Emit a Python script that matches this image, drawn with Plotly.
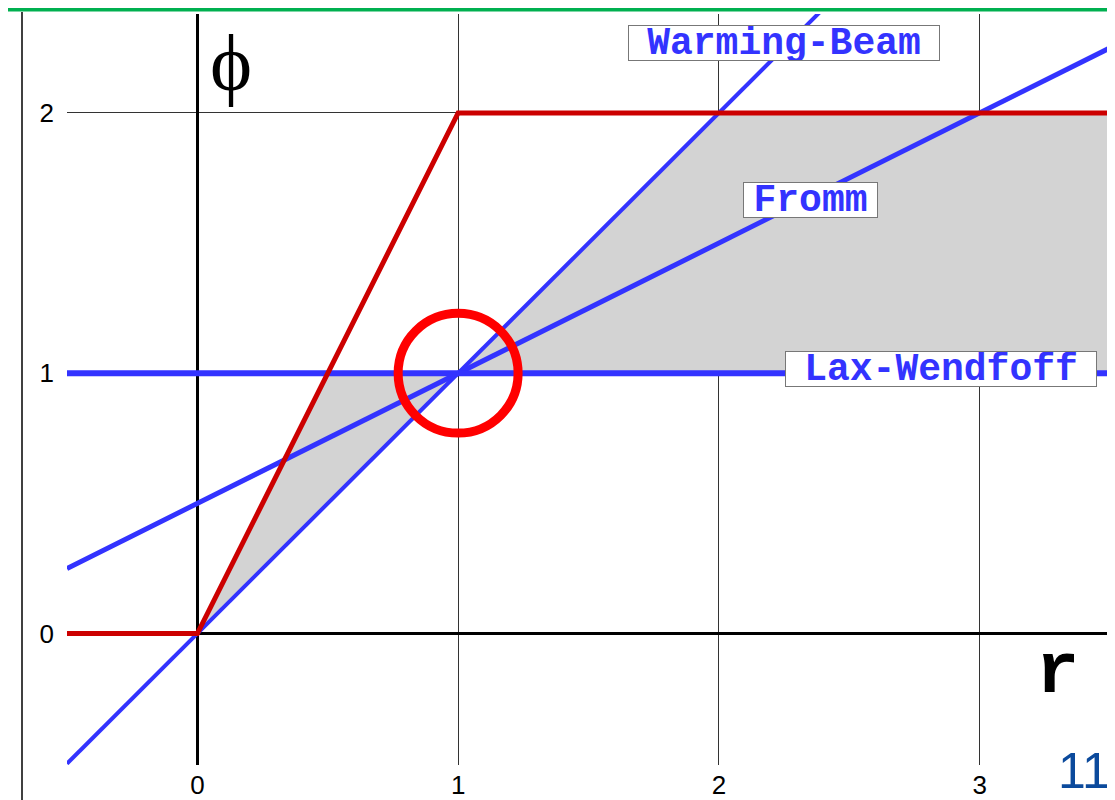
import plotly.graph_objects as go

# ---- data ----
tick_vals = [0, 1, 2, 3]
tick_text = ["0", "1", "2", "3"]

wb_r = [-0.5, 2.4]        # Warming-Beam  phi = r
wb_phi = [-0.5, 2.4]
fromm_r = [-0.5, 3.5]     # Fromm  phi = (1+r)/2
fromm_phi = [0.25, 2.25]
lw_r = [-0.5, 3.5]        # Lax-Wendroff  phi = 1
lw_phi = [1, 1]
limit_r = [-0.5, 0, 1, 3.5]   # upper TVD bound
limit_phi = [0, 0, 2, 2]
region_r = [0, 0.5, 1, 2, 3.5, 3.5, 1, 0]
region_phi = [0, 1, 1, 2, 2, 1, 1, 0]
circle_center = (1, 1)
circle_radius = 0.23

labels = ["Warming-Beam", "Fromm", "Lax-Wendfoff"]
label_r = [2.25, 2.35, 2.85]
label_phi = [2.27, 1.665, 1.015]
label_w = [310, 133, 310]

BLUE = "#3333FF"
RED = "#CC0000"

# page is rendered with an 8px body margin; plot area sits at page px x 67..1110, y 14..765
OFF = 8
PL, PR, PT, PB = 67, 1110, 14, 765
PW, PH = PR - PL, PB - PT


def px(xp):
    return (xp - PL) / PW


def py(yp):
    return (PB - yp) / PH


fig = go.Figure()
fig.add_trace(go.Scatter(x=region_r, y=region_phi, fill="toself", mode="none",
                         fillcolor="#D3D3D3", hoverinfo="skip"))
fig.add_trace(go.Scatter(x=wb_r, y=wb_phi, mode="lines", line=dict(color=BLUE, width=4)))
fig.add_trace(go.Scatter(x=fromm_r, y=fromm_phi, mode="lines", line=dict(color=BLUE, width=5)))
fig.add_trace(go.Scatter(x=lw_r, y=lw_phi, mode="lines", line=dict(color=BLUE, width=6)))
fig.add_trace(go.Scatter(x=limit_r, y=limit_phi, mode="lines", line=dict(color=RED, width=5)))

cx, cy = circle_center
fig.add_shape(type="circle", xref="x", yref="y",
              x0=cx - circle_radius, x1=cx + circle_radius,
              y0=cy - circle_radius, y1=cy + circle_radius,
              line=dict(color="#FF0000", width=9))

for t, x, y, w in zip(labels, label_r, label_phi, label_w):
    fig.add_annotation(x=x, y=y, text=t, showarrow=False, width=w, height=34,
                       font=dict(family="Liberation Mono", size=38, color=BLUE, weight="bold"),
                       bgcolor="white", bordercolor="#777777", borderwidth=1, borderpad=0)

fig.add_annotation(x=0.13, y=2.19, text="\u03d5", showarrow=False,
                   font=dict(family="Liberation Serif", size=80, color="black"))
fig.add_annotation(x=3.30, y=-0.15, text="r", showarrow=False,
                   font=dict(family="Liberation Mono", size=72, color="black", weight="bold"))
fig.add_annotation(xref="paper", yref="paper", x=px(1112), y=py(801),
                   xanchor="right", yanchor="bottom", text="11", showarrow=False,
                   font=dict(family="Liberation Sans", size=50, color="#0B4A9C"))

# slide decorations
fig.add_shape(type="line", xref="paper", yref="paper",
              x0=px(0), x1=px(1120), y0=py(9.5), y1=py(9.5),
              line=dict(color="#00B050", width=4))
fig.add_shape(type="line", xref="paper", yref="paper",
              x0=px(22), x1=px(22), y0=py(805), y1=py(12),
              line=dict(color="black", width=1.5))

axis_common = dict(tickvals=tick_vals, ticktext=tick_text, showgrid=True, gridcolor="#333333",
                   gridwidth=1, zeroline=True, zerolinecolor="black", zerolinewidth=3,
                   showline=False, ticks="", automargin=False,
                   tickfont=dict(family="Liberation Sans", size=26, color="black"))
fig.update_xaxes(range=[-0.5, 3.5], ticklabelstandoff=2, **axis_common)
fig.update_yaxes(range=[-0.505, 2.38], ticklabelstandoff=12, **axis_common)

fig.update_layout(width=1115 - OFF, height=800 - OFF, showlegend=False,
                  plot_bgcolor="white", paper_bgcolor="white",
                  margin=dict(l=PL - OFF, r=1115 - PR, t=PT - OFF, b=800 - PB, autoexpand=False))

fig.write_html("out.html")
